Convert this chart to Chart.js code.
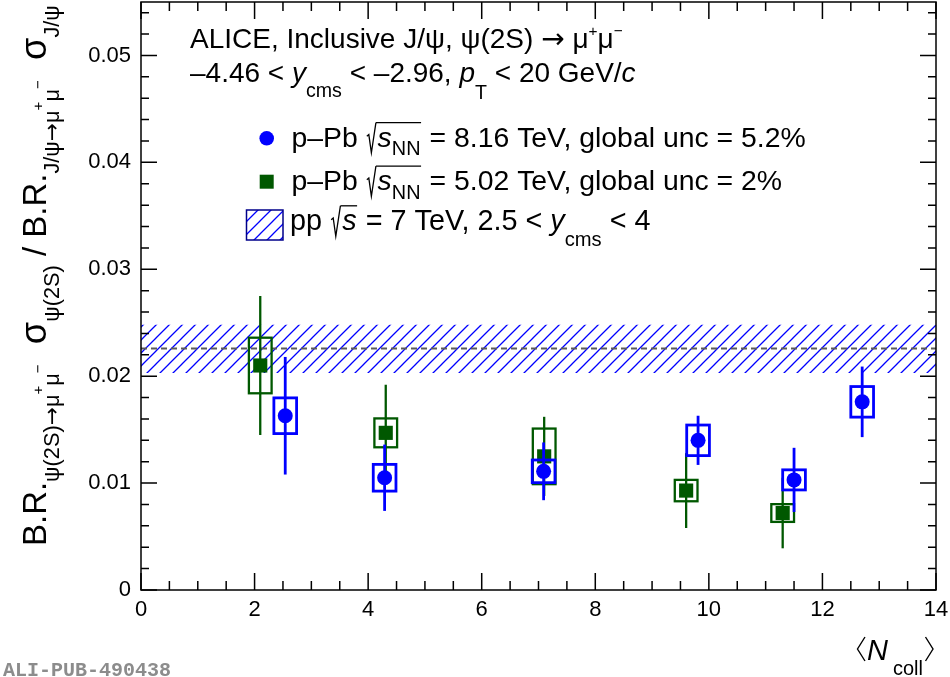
<!DOCTYPE html>
<html>
<head>
<meta charset="utf-8">
<script src="https://cdn.jsdelivr.net/npm/chart.js@4.4.1/dist/chart.umd.min.js"></script>
<style>
  body { margin: 0; background: #fff; }
  #wrap { width: 950px; height: 677px; }
</style>
</head>
<body>
<div id="wrap"><canvas id="chart" width="950" height="677"></canvas></div>
<script>
// axis ticks
const xTicks = [0, 2, 4, 6, 8, 10, 12, 14];
const yTicks = [0, 0.01, 0.02, 0.03, 0.04, 0.05];

// p-Pb 8.16 TeV
const ncoll8 = [2.54, 4.29, 7.09, 9.81, 11.50, 12.70];
const ratio8 = [0.0163, 0.0105, 0.0111, 0.0140, 0.0103, 0.0176];
const stat8 = [0.0055, 0.0031, 0.0027, 0.0023, 0.0030, 0.0033];
const syst8 = [0.00167, 0.00125, 0.00106, 0.00143, 0.00094, 0.00143];

// p-Pb 5.02 TeV
const ncoll5 = [2.10, 4.31, 7.10, 9.60, 11.30];
const ratio5 = [0.0210, 0.0147, 0.0125, 0.0093, 0.0072];
const stat5 = [0.0065, 0.0045, 0.0037, 0.0035, 0.0033];
const syst5 = [0.0026, 0.00135, 0.0026, 0.0010, 0.00083];

// pp 7 TeV band
const ratioPP = 0.0226;
const ratioPPLow = 0.0203;
const ratioPPHigh = 0.0248;

const FONT = '"Liberation Sans", Arial, Helvetica, sans-serif';
const BLUE = '#0000ff';
const GREEN = '#005800';
const BOX_HALF = 0.2;

// hatch pattern for the pp band
function makeHatch() {
    const T = 13;
    const c = document.createElement('canvas');
    c.width = T; c.height = T;
    const g = c.getContext('2d');
    g.strokeStyle = BLUE;
    g.lineWidth = 1.3;
    g.beginPath();
    g.moveTo(0, T); g.lineTo(T, 0);
    g.moveTo(-1, 1); g.lineTo(1, -1);
    g.moveTo(T - 1, T + 1); g.lineTo(T + 1, T - 1);
    g.stroke();
    return g.createPattern(c, 'repeat');
}
const hatch = makeHatch();

// simple text with sub/superscripts, italics and sqrt
function richText(ctx, parts, x, y, base, dryRun) {
    let cx = x;
    let sqrtStart = null;
    for (const p of parts) {
        if (p.sqrt === 'open') {
            const w = 0.42 * base;
            if (!dryRun) {
                ctx.save();
                ctx.lineWidth = 1.3;
                ctx.strokeStyle = ctx.fillStyle;
                ctx.beginPath();
                ctx.moveTo(cx + 0.04 * base, y - 0.36 * base);
                ctx.lineTo(cx + 0.11 * base, y - 0.42 * base);
                ctx.lineTo(cx + 0.2 * base, y + 0.22 * base);
                ctx.lineTo(cx + 0.36 * base, y - 0.84 * base);
                ctx.stroke();
                ctx.restore();
            }
            sqrtStart = cx + 0.36 * base;
            cx += w;
            continue;
        }
        if (p.sqrt === 'close') {
            if (!dryRun) {
                ctx.save();
                ctx.lineWidth = 1.3;
                ctx.strokeStyle = ctx.fillStyle;
                ctx.beginPath();
                ctx.moveTo(sqrtStart, y - 0.84 * base);
                ctx.lineTo(cx + 0.02 * base, y - 0.84 * base);
                ctx.stroke();
                ctx.restore();
            }
            cx += 0.04 * base;
            continue;
        }
        const size = base * (p.s || 1);
        ctx.font = (p.i ? 'italic ' : '') + size + 'px ' + (p.f || FONT);
        const w = ctx.measureText(p.t).width;
        if (!dryRun) ctx.fillText(p.t, cx, y + base * (p.dy || 0));
        cx += w;
    }
    return cx - x;
}

const ARROW_FONT = '"DejaVu Sans", sans-serif';
const SUB = { s: 0.66, dy: 0.4 };
const SUP = { s: 0.46, dy: -0.1 };
const headerLine1 = [
    { t: 'ALICE, Inclusive J/\u03C8, \u03C8(2S) ' },
    { t: '\u2192', f: ARROW_FONT },
    { t: ' \u03BC' },
    { t: '+', s: 0.55, dy: -0.42 },
    { t: '\u03BC' },
    { t: '\u2212', s: 0.55, dy: -0.42 }
];
const headerLine2 = [
    { t: '\u20134.46 < ' }, { t: 'y', i: true }, { t: 'cms', s: 0.7, dy: 0.55 },
    { t: ' < \u20132.96, ' }, { t: 'p', i: true }, { t: 'T', s: 0.7, dy: 0.6 },
    { t: ' < 20 GeV/' }, { t: 'c', i: true }
];
const legend8 = [
    { t: 'p\u2013Pb ' }, { sqrt: 'open' }, { t: 's', i: true }, { t: 'NN', s: 0.7, dy: 0.3 }, { sqrt: 'close' },
    { t: ' = 8.16 TeV, global unc = 5.2%' }
];
const legend5 = [
    { t: 'p\u2013Pb ' }, { sqrt: 'open' }, { t: 's', i: true }, { t: 'NN', s: 0.7, dy: 0.3 }, { sqrt: 'close' },
    { t: ' = 5.02 TeV, global unc = 2%' }
];
const legendPP = [
    { t: 'pp ' }, { sqrt: 'open' }, { t: 's', i: true }, { sqrt: 'close' },
    { t: ' = 7 TeV, 2.5 < ' }, { t: 'y', i: true }, { t: 'cms', s: 0.7, dy: 0.55 }, { t: ' < 4' }
];
const yTitle = [
    { t: 'B.R.' },
    { t: '\u03C8(2S)', ...SUB }, { t: '\u2192', f: ARROW_FONT, ...SUB }, { t: '\u03BC', ...SUB },
    { t: '+', ...SUP }, { t: '\u03BC', ...SUB }, { t: '\u2212', ...SUP },
    { t: '  \u03C3', s: 1.1 },
    { t: '\u03C8(2S)', ...SUB },
    { t: ' / B.R.' },
    { t: 'J/\u03C8', ...SUB }, { t: '\u2192', f: ARROW_FONT, ...SUB }, { t: '\u03BC', ...SUB },
    { t: '+', ...SUP }, { t: '\u03BC', ...SUB }, { t: '\u2212', ...SUP },
    { t: '  \u03C3', s: 1.1 },
    { t: 'J/\u03C8', ...SUB }
];

function drawErrors(ctx, chart, xs, ys, stat, syst, color, lw) {
    const sx = chart.scales.x, sy = chart.scales.y;
    ctx.save();
    ctx.strokeStyle = color;
    ctx.lineWidth = lw;
    xs.forEach((x, i) => {
        const px = sx.getPixelForValue(x);
        ctx.beginPath();
        ctx.moveTo(px, sy.getPixelForValue(ys[i] - stat[i]));
        ctx.lineTo(px, sy.getPixelForValue(ys[i] + stat[i]));
        ctx.stroke();
        const l = sx.getPixelForValue(x - BOX_HALF), r = sx.getPixelForValue(x + BOX_HALF);
        const t = sy.getPixelForValue(ys[i] + syst[i]), b = sy.getPixelForValue(ys[i] - syst[i]);
        ctx.strokeRect(l, t, r - l, b - t);
    });
    ctx.restore();
}

const rootStyle = {
    id: 'rootStyle',
    beforeDatasetDraw(chart, args) {
        const ctx = chart.ctx;
        if (args.index === 0) drawErrors(ctx, chart, ncoll8, ratio8, stat8, syst8, BLUE, 2.8);
        if (args.index === 1) drawErrors(ctx, chart, ncoll5, ratio5, stat5, syst5, GREEN, 2.3);
    },
    afterDraw(chart) {
        const ctx = chart.ctx;
        const a = chart.chartArea;
        const sx = chart.scales.x, sy = chart.scales.y;
        ctx.save();

        // frame and inward ticks on all sides
        ctx.strokeStyle = '#000';
        ctx.lineWidth = 1.5;
        ctx.strokeRect(a.left, a.top, a.right - a.left, a.bottom - a.top);
        ctx.beginPath();
        for (let v = 0; v <= 14.001; v += 0.5) {
            const px = sx.getPixelForValue(v);
            const len = Math.abs(v / 2 - Math.round(v / 2)) < 1e-6 ? 17 : 9;
            ctx.moveTo(px, a.bottom); ctx.lineTo(px, a.bottom - len);
            ctx.moveTo(px, a.top); ctx.lineTo(px, a.top + len);
        }
        for (let k = 0; k <= 27; k++) {
            const v = k * 0.002;
            const py = sy.getPixelForValue(v);
            const len = k % 5 === 0 ? 16 : 8;
            ctx.moveTo(a.left, py); ctx.lineTo(a.left + len, py);
            ctx.moveTo(a.right, py); ctx.lineTo(a.right - len, py);
        }
        ctx.stroke();

        // header
        ctx.fillStyle = '#000';
        ctx.textBaseline = 'alphabetic';
        ctx.textAlign = 'left';
        richText(ctx, headerLine1, 190, 48, 28);
        richText(ctx, headerLine2, 190, 82, 28);

        // legend
        ctx.fillStyle = BLUE;
        ctx.beginPath();
        ctx.arc(266.7, 138.3, 7.3, 0, Math.PI * 2);
        ctx.fill();
        ctx.fillStyle = GREEN;
        ctx.fillRect(259.7, 174.7, 14, 14);
        ctx.fillStyle = hatch;
        ctx.fillRect(246.5, 210, 36.5, 30);
        ctx.strokeStyle = '#00008a';
        ctx.lineWidth = 1.5;
        ctx.strokeRect(246.5, 210, 36.5, 30);
        ctx.fillStyle = '#000';
        richText(ctx, legend8, 291.5, 146.5, 28.4);
        richText(ctx, legend5, 291.5, 190, 28.4);
        richText(ctx, legendPP, 290, 230, 28.8);

        // y title, rotated, from y=546 up to y=5
        const w0 = richText(ctx, yTitle, 0, 0, 28, true);
        const base = 28 * 541 / w0;
        ctx.save();
        ctx.translate(46, 546);
        ctx.rotate(-Math.PI / 2);
        richText(ctx, yTitle, 0, 0, base);
        ctx.restore();

        // x title  <N_coll>
        ctx.lineWidth = 1.4;
        ctx.strokeStyle = '#000';
        ctx.beginPath();
        ctx.moveTo(865, 637); ctx.lineTo(857.5, 649); ctx.lineTo(865, 661);
        ctx.moveTo(925.5, 637); ctx.lineTo(933, 649); ctx.lineTo(925.5, 661);
        ctx.stroke();
        ctx.font = 'italic 29px ' + FONT;
        ctx.fillText('N', 867, 660);
        ctx.font = '20px ' + FONT;
        ctx.fillText('coll', 893, 675);

        // publication tag
        ctx.fillStyle = '#8c8c8c';
        ctx.font = 'bold 20px "Liberation Mono", "DejaVu Sans Mono", monospace';
        ctx.fillText('ALI-PUB-490438', 3, 676);
        ctx.restore();
    }
};

const tickFont = { family: FONT, size: 22 };

new Chart(document.getElementById('chart'), {
    type: 'scatter',
    data: {
        datasets: [
            {
                label: 'p-Pb 8.16 TeV',
                data: ncoll8.map((x, i) => ({ x: x, y: ratio8[i] })),
                pointStyle: 'circle',
                pointRadius: 7.5,
                backgroundColor: BLUE,
                borderWidth: 0
            },
            {
                label: 'p-Pb 5.02 TeV',
                data: ncoll5.map((x, i) => ({ x: x, y: ratio5[i] })),
                pointStyle: 'rect',
                pointRadius: 10,
                backgroundColor: GREEN,
                borderWidth: 0
            },
            {
                type: 'line',
                label: 'pp 7 TeV',
                data: [{ x: 0, y: ratioPP }, { x: 14, y: ratioPP }],
                borderColor: '#5a5a5a',
                borderDash: [6, 4],
                borderWidth: 2,
                pointRadius: 0,
                fill: false
            },
            {
                type: 'line',
                label: 'pp band',
                data: [{ x: 0, y: ratioPPHigh }, { x: 14, y: ratioPPHigh }],
                borderColor: 'rgba(0,0,0,0)',
                borderWidth: 0,
                pointRadius: 0,
                fill: { value: ratioPPLow },
                backgroundColor: hatch
            }
        ]
    },
    options: {
        responsive: false,
        animation: false,
        devicePixelRatio: 1,
        layout: { autoPadding: false, padding: { top: 2, right: 14, left: 0, bottom: 0 } },
        plugins: { legend: { display: false }, tooltip: { enabled: false } },
        scales: {
            x: {
                type: 'linear',
                min: 0,
                max: 14,
                grid: { display: false, drawTicks: false },
                border: { display: false },
                afterBuildTicks: (s) => { s.ticks = xTicks.map(v => ({ value: v })); },
                afterFit: (s) => { s.height = 87; s.paddingLeft = 0; s.paddingRight = 0; },
                ticks: { font: tickFont, color: '#000', padding: 7, maxRotation: 0, autoSkip: false }
            },
            y: {
                type: 'linear',
                min: 0,
                max: 0.055,
                grid: { display: false, drawTicks: false },
                border: { display: false },
                afterBuildTicks: (s) => { s.ticks = yTicks.map(v => ({ value: v })); },
                afterFit: (s) => { s.width = 141; s.paddingTop = 0; s.paddingBottom = 0; },
                ticks: {
                    font: tickFont, color: '#000', padding: 10, autoSkip: false,
                    callback: (v) => v === 0 ? '0' : v.toFixed(2)
                }
            }
        }
    },
    plugins: [rootStyle]
});
</script>
</body>
</html>
